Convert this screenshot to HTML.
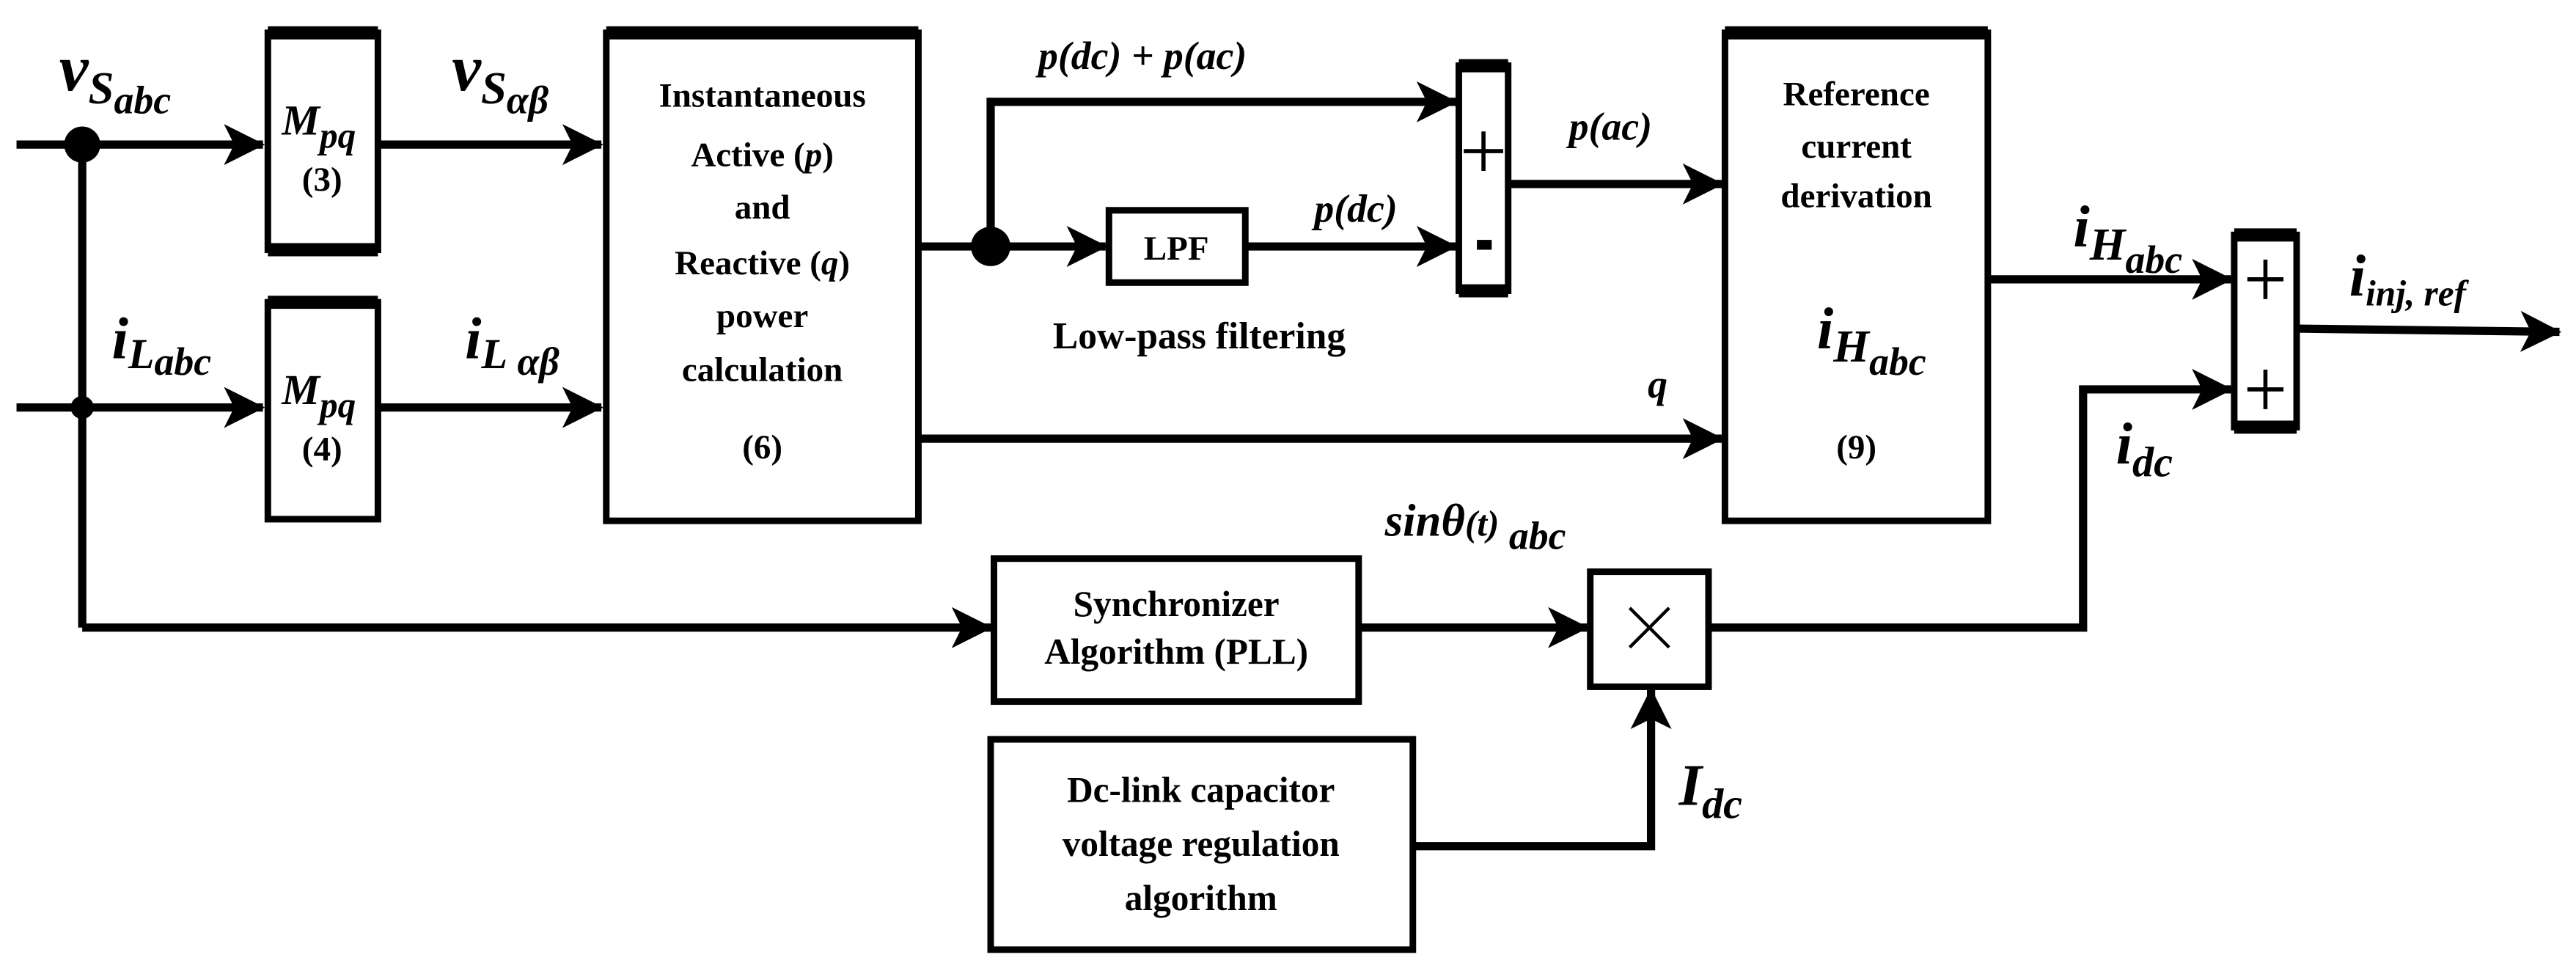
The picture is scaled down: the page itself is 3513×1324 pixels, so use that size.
<!DOCTYPE html>
<html><head><style>
html,body{margin:0;padding:0;background:#fff}
svg{display:block}
text{font-family:"Liberation Serif",serif;font-weight:bold;fill:#000}
</style></head><body>
<svg width="3513" height="1324" viewBox="0 0 1568 591" xmlns="http://www.w3.org/2000/svg">
<defs>
<marker id="a" viewBox="0 0 20 20" refX="19" refY="10" markerWidth="5" markerHeight="5" orient="auto" markerUnits="strokeWidth">
<path d="M0,0 L20,10 L0,20 L5,10 Z" fill="#000"/></marker>
</defs>
<g stroke="#000" stroke-width="5" fill="none">
<line x1="10" y1="88" x2="160" y2="88" marker-end="url(#a)"/>
<line x1="10" y1="248" x2="160" y2="248" marker-end="url(#a)"/>
<line x1="50" y1="88" x2="50" y2="382"/>
<line x1="50" y1="382" x2="603" y2="382" marker-end="url(#a)"/>
<rect x="163" y="20" width="67" height="132" stroke-width="4"/>
<rect x="163" y="184" width="67" height="132" stroke-width="4"/>
<rect x="369" y="20" width="190" height="297" stroke-width="4"/>
<rect x="675" y="128" width="83" height="44" stroke-width="4"/>
<rect x="888" y="40" width="30" height="137" stroke-width="4"/>
<rect x="1050" y="20" width="160" height="297" stroke-width="4"/>
<rect x="1360" y="143" width="38" height="117" stroke-width="4"/>
<rect x="605" y="340" width="222" height="87" stroke-width="4"/>
<rect x="968" y="348" width="72" height="70" stroke-width="4"/>
<rect x="603" y="450" width="257" height="128" stroke-width="4"/>
<line x1="230" y1="88" x2="366" y2="88" marker-end="url(#a)"/>
<line x1="230" y1="248" x2="366" y2="248" marker-end="url(#a)"/>
<line x1="559" y1="150" x2="603" y2="150"/>
<polyline points="603,150 603,62 886,62" marker-end="url(#a)"/>
<line x1="603" y1="150" x2="673" y2="150" marker-end="url(#a)"/>
<line x1="758" y1="150" x2="886" y2="150" marker-end="url(#a)"/>
<line x1="918" y1="112" x2="1048" y2="112" marker-end="url(#a)"/>
<line x1="559" y1="267" x2="1048" y2="267" marker-end="url(#a)"/>
<line x1="1210" y1="170" x2="1358" y2="170" marker-end="url(#a)"/>
<line x1="1398" y1="200" x2="1558" y2="202" marker-end="url(#a)"/>
<polyline points="1040,382 1268,382 1268,237 1358,237" marker-end="url(#a)"/>
<line x1="827" y1="382" x2="966" y2="382" marker-end="url(#a)"/>
<polyline points="860,515 1005,515 1005,420" marker-end="url(#a)"/>
<g stroke-width="8">
<line x1="163" y1="20" x2="230" y2="20"/><line x1="163" y1="152" x2="230" y2="152"/>
<line x1="163" y1="184" x2="230" y2="184"/>
<line x1="369" y1="20" x2="559" y2="20"/>
<line x1="1050" y1="20" x2="1210" y2="20"/>
<line x1="888" y1="40" x2="918" y2="40"/><line x1="888" y1="177" x2="918" y2="177"/>
<line x1="1360" y1="143" x2="1398" y2="143"/><line x1="1360" y1="260" x2="1398" y2="260"/>
</g>
<line x1="992" y1="370" x2="1016" y2="394" stroke-width="2"/>
<line x1="1016" y1="370" x2="992" y2="394" stroke-width="2"/>
</g>
<circle cx="50" cy="88" r="11"/>
<circle cx="50" cy="248" r="7"/>
<circle cx="603" cy="150" r="12"/>
<g stroke="#000" stroke-width="2.5">
<line x1="903" y1="80" x2="903" y2="104"/><line x1="891" y1="92" x2="915" y2="92"/>
<line x1="1379" y1="158" x2="1379" y2="182"/><line x1="1368" y1="170" x2="1390" y2="170"/>
<line x1="1379" y1="225" x2="1379" y2="249"/><line x1="1368" y1="237" x2="1390" y2="237"/>
</g>
<rect x="899" y="146" width="9" height="6"/>
<g font-style="italic">
<text x="36" y="55" font-size="40">v<tspan font-size="28" dy="8">S</tspan><tspan font-size="24" dy="6">abc</tspan></text>
<text x="275" y="55" font-size="40">v<tspan font-size="28" dy="8">S</tspan><tspan font-size="24" dy="6">αβ</tspan></text>
<text x="68" y="218" font-size="36">i<tspan font-size="26" dy="6">L</tspan><tspan font-size="24" dy="4">abc</tspan></text>
<text x="283" y="218" font-size="36">i<tspan font-size="26" dy="6">L</tspan><tspan font-size="24" dy="4"> αβ</tspan></text>
</g>
<g font-style="italic" font-size="26" text-anchor="middle">
<text x="194" y="82">M<tspan font-size="22" dy="8">pq</tspan></text>
<text x="194" y="246">M<tspan font-size="22" dy="8">pq</tspan></text>
</g>
<g font-size="21" text-anchor="middle">
<text x="196" y="116">(3)</text>
<text x="196" y="280">(4)</text>
<text x="464" y="65">Instantaneous</text>
<text x="464" y="101">Active (<tspan font-style="italic">p</tspan>)</text>
<text x="464" y="133">and</text>
<text x="464" y="167">Reactive (<tspan font-style="italic">q</tspan>)</text>
<text x="464" y="199">power</text>
<text x="464" y="232">calculation</text>
<text x="464" y="279">(6)</text>
<text x="716" y="158">LPF</text>
<text x="730" y="212" font-size="23">Low-pass filtering</text>
<text x="1130" y="64">Reference</text>
<text x="1130" y="96">current</text>
<text x="1130" y="126">derivation</text>
<text x="1130" y="279">(9)</text>
<text x="716" y="375" font-size="22">Synchronizer</text>
<text x="716" y="404" font-size="22">Algorithm (PLL)</text>
<text x="731" y="488" font-size="22">Dc-link capacitor</text>
<text x="731" y="521" font-size="22">voltage regulation</text>
<text x="731" y="554" font-size="22">algorithm</text>
</g>
<g font-style="italic" font-size="24">
<text x="632" y="42">p(dc) + p(ac)</text>
<text x="800" y="135">p(dc)</text>
<text x="955" y="85">p(ac)</text>
<text x="1003" y="242">q</text>
<text x="1106" y="212" font-size="36">i<tspan font-size="28" dy="8">H</tspan><tspan font-size="24" dy="8">abc</tspan></text>
<text x="1262" y="150" font-size="36">i<tspan font-size="28" dy="8">H</tspan><tspan font-size="24" dy="8">abc</tspan></text>
<text x="1430" y="180" font-size="36">i<tspan font-size="22" dy="6">inj, ref</tspan></text>
<text x="1288" y="282" font-size="36">i<tspan font-size="26" dy="8">dc</tspan></text>
<text x="1022" y="490" font-size="36">I<tspan font-size="26" dy="8">dc</tspan></text>
<text x="843" y="326" font-size="28">sinθ<tspan font-size="22">(t)</tspan><tspan font-size="24" dy="8"> abc</tspan></text>
</g>
</svg>
</body></html>
